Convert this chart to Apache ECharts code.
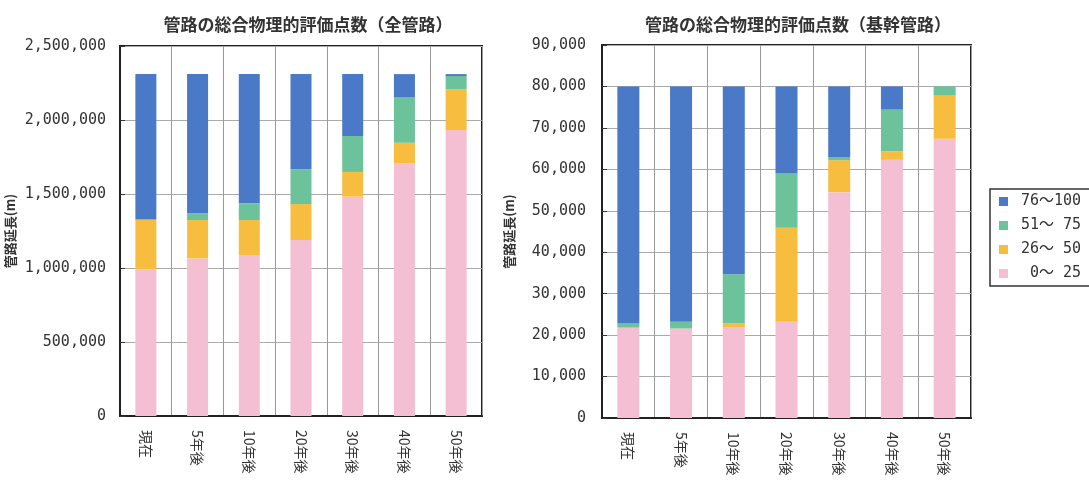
<!DOCTYPE html>
<html>
<head>
<meta charset="utf-8">
<script src="https://cdn.jsdelivr.net/npm/echarts@6/dist/echarts.min.js"></script>
<style>
  html, body { margin: 0; padding: 0; background: #ffffff; }
  #chart { width: 1089px; height: 481px; }
</style>
</head>
<body>
<div id="chart"></div>
<script>
// Time horizons (x categories), shared by both panels
const periods = ['現在', '5年後', '10年後', '20年後', '30年後', '40年後', '50年後'];

// Score bands, bottom of stack first
const bands = ['0〜25', '26〜50', '51〜75', '76〜100'];
const bandLabels = { '0〜25': ' 0〜 25', '26〜50': '26〜 50', '51〜75': '51〜 75', '76〜100': '76〜100' };

// All pipes (m)
const allPipes_0_25   = [990000, 1065000, 1088000, 1189000, 1482000, 1707000, 1932000];
const allPipes_26_50  = [335000,  259000,  236000,  243000,  167000,  140000,  275000];
const allPipes_51_75  = [  5000,   46000,  113000,  235000,  243000,  306000,   90000];
const allPipes_76_100 = [980000,  940000,  873000,  643000,  418000,  157000,   13000];

// Trunk pipes (m)
const trunk_0_25   = [21800, 21600, 21800, 23200, 54500, 62300, 67400];
const trunk_26_50  = [    0,     0,  1000, 22700,  7700,  2100, 10400];
const trunk_51_75  = [ 1000,  1600, 11900, 13100,   800, 10000,  2200];
const trunk_76_100 = [57200, 56800, 45300, 21000, 17000,  5600,     0];

const titles = ['管路の総合物理的評価点数（全管路）', '管路の総合物理的評価点数（基幹管路）'];
const yName = '管路延長(m)';

const colors = {
  '0〜25': '#f4bfd2',
  '26〜50': '#f6bd3e',
  '51〜75': '#6cc29a',
  '76〜100': '#4a79c7'
};

const numFont = '"DejaVu Sans Mono", "Noto Sans CJK JP", monospace';
const jpFont = '"Noto Sans CJK JP", "DejaVu Sans", sans-serif';

const panels = [
  { data: [allPipes_0_25, allPipes_26_50, allPipes_51_75, allPipes_76_100], max: 2500000, interval: 500000, barWidth: 21 },
  { data: [trunk_0_25, trunk_26_50, trunk_51_75, trunk_76_100], max: 90000, interval: 10000, barWidth: 22 }
];

const grids = [
  { left: 120, right: 607, top: 46, bottom: 65 },
  { left: 602, right: 118, top: 45, bottom: 63 }
];

const fmt = v => Math.round(v).toString().replace(/\B(?=(\d{3})+(?!\d))/g, ',');

const option = {
  backgroundColor: '#ffffff',
  animation: false,
  title: [
    { text: titles[0], left: 303, top: 11, textAlign: 'center',
      textStyle: { fontFamily: jpFont, fontSize: 17, fontWeight: 'bold', color: '#333' } },
    { text: titles[1], left: 793, top: 11, textAlign: 'center',
      textStyle: { fontFamily: jpFont, fontSize: 17, fontWeight: 'bold', color: '#333' } }
  ],
  legend: {
    orient: 'vertical',
    left: 990,
    top: 189,
    data: bands.slice().reverse(),
    icon: 'rect',
    itemWidth: 9,
    itemHeight: 9,
    itemGap: 9,
    padding: [5, 30, 5, 9],
    borderColor: '#333',
    borderWidth: 1.5,
    formatter: name => bandLabels[name],
    textStyle: { fontFamily: numFont, fontSize: 15, color: '#333', padding: [0, 0, 0, 8] }
  },
  grid: grids.map(g => Object.assign({ show: true, borderColor: '#222', borderWidth: 2, backgroundColor: '#fff' }, g)),
  xAxis: panels.map((p, i) => ({
    type: 'category',
    gridIndex: i,
    data: periods,
    axisLine: { lineStyle: { color: '#222', width: 2 } },
    axisTick: { show: false },
    splitLine: { show: true, lineStyle: { color: '#9a9a9a', width: 1 } },
    axisLabel: {
      rotate: -90,
      margin: 14,
      fontFamily: jpFont,
      fontSize: 14,
      color: '#333'
    }
  })),
  yAxis: panels.map((p, i) => ({
    type: 'value',
    gridIndex: i,
    min: 0,
    max: p.max,
    interval: p.interval,
    name: yName,
    nameLocation: 'middle',
    nameRotate: 90,
    nameGap: i === 0 ? 103 : 86,
    nameTextStyle: { fontFamily: jpFont, fontSize: 13, fontWeight: 'bold', color: '#333' },
    axisLine: { show: true, lineStyle: { color: '#222', width: 2 } },
    axisTick: { show: true, inside: true, length: 5, lineStyle: { color: '#333' } },
    splitLine: { show: true, lineStyle: { color: '#aaaaaa', width: 1 } },
    axisLabel: {
      margin: i === 0 ? 14 : 16,
      fontFamily: numFont,
      fontSize: 15,
      color: '#333',
      formatter: fmt
    }
  })),
  series: []
};

panels.forEach((p, i) => {
  bands.forEach((b, k) => {
    option.series.push({
      name: b,
      type: 'bar',
      stack: 'panel' + i,
      xAxisIndex: i,
      yAxisIndex: i,
      barWidth: p.barWidth,
      data: p.data[k],
      itemStyle: { color: colors[b] }
    });
  });
});

const chart = echarts.init(document.getElementById('chart'), null, { renderer: 'canvas' });
chart.setOption(option);
</script>
</body>
</html>
